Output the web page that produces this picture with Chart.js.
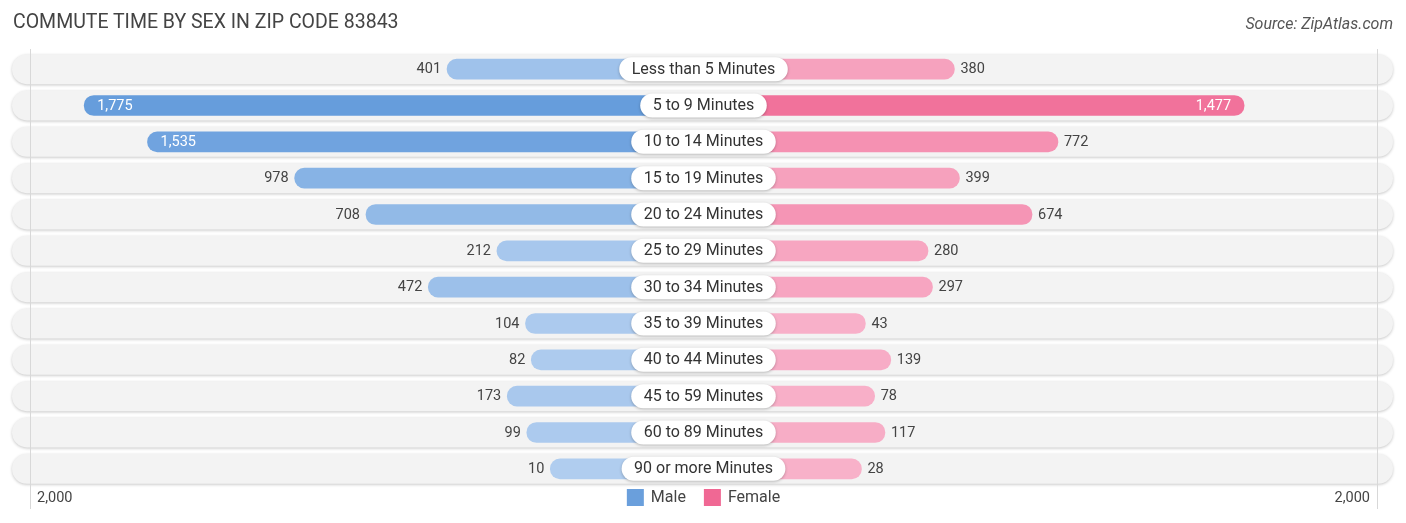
<!DOCTYPE html>
<html>
<head>
<meta charset="utf-8">
<script src="https://cdn.jsdelivr.net/npm/chart.js@4.4.0/dist/chart.umd.min.js"></script>
<style>
  body { margin: 0; background: #fff; font-family: Roboto, "Open Sans", sans-serif; }
  #wrap { position: relative; width: 1406px; height: 523px; }
  #title { position: absolute; left: 13px; top: 10px; font-size: 19.5px; color: #444; }
  #source { position: absolute; right: 13px; top: 14px; font-size: 16px; font-style: italic; color: #555; }
  canvas { position: absolute; left: 0; top: 0; }
</style>
</head>
<body>
<div id="wrap">
  <canvas id="chart" width="1406" height="523"></canvas>
  <div id="title">COMMUTE TIME BY SEX IN ZIP CODE 83843</div>
  <div id="source">Source: ZipAtlas.com</div>
</div>
<script>
// data
const categories = ['Less than 5 Minutes', '5 to 9 Minutes', '10 to 14 Minutes', '15 to 19 Minutes',
  '20 to 24 Minutes', '25 to 29 Minutes', '30 to 34 Minutes', '35 to 39 Minutes',
  '40 to 44 Minutes', '45 to 59 Minutes', '60 to 89 Minutes', '90 or more Minutes'];
const maleValues = [401, 1775, 1535, 978, 708, 212, 472, 104, 82, 173, 99, 10];
const femaleValues = [380, 1477, 772, 399, 674, 280, 297, 43, 139, 78, 117, 28];
const axisTickLabels = ['2,000', '2,000'];

// bars start behind the label pill, so every bar gets this much extra length
const GAP = 570;
const RANGE = 2550;

function mix(a, b, t) {
  const r = Math.round(a[0] + (b[0] - a[0]) * t);
  const g = Math.round(a[1] + (b[1] - a[1]) * t);
  const bl = Math.round(a[2] + (b[2] - a[2]) * t);
  return `rgb(${r},${g},${bl})`;
}
const maxAll = Math.max(...maleValues, ...femaleValues);
const maleColors = maleValues.map(v => mix([176, 205, 239], [102, 157, 220], v / maxAll));
const femaleColors = femaleValues.map(v => mix([248, 178, 202], [240, 101, 146], v / maxAll));

function fmt(v) { return v.toLocaleString('en-US'); }

// pill shape: rounded ends with radius h/2
function pill(ctx, x, y, w, h) {
  const r = h / 2;
  ctx.beginPath();
  ctx.moveTo(x + r, y);
  ctx.lineTo(x + w - r, y);
  ctx.arc(x + w - r, y + r, r, -Math.PI / 2, Math.PI / 2);
  ctx.lineTo(x + r, y + h);
  ctx.arc(x + r, y + r, r, Math.PI / 2, Math.PI * 1.5);
  ctx.closePath();
}

const backgroundPlugin = {
  id: 'rowBackgrounds',
  beforeDatasetsDraw(chart) {
    const ctx = chart.ctx;
    const y = chart.scales.y;
    const area = chart.chartArea;
    ctx.save();
    categories.forEach((c, i) => {
      const cy = y.getPixelForValue(i);
      ctx.shadowColor = 'rgba(0,0,0,0.22)';
      ctx.shadowBlur = 3;
      ctx.shadowOffsetY = 1;
      pill(ctx, 12, cy - 15, 1381, 30);
      ctx.fillStyle = '#f3f3f3';
      ctx.fill();
    });
    ctx.shadowColor = 'transparent';
    // gridlines at both ends of the axis
    ctx.strokeStyle = '#d8d8d8';
    ctx.lineWidth = 1;
    [area.left, area.right].forEach(x => {
      ctx.beginPath();
      ctx.moveTo(Math.round(x) + 0.5, area.top - 2);
      ctx.lineTo(Math.round(x) + 0.5, area.bottom + 22);
      ctx.stroke();
    });
    ctx.restore();
  }
};

const labelPlugin = {
  id: 'labels',
  afterDatasetsDraw(chart) {
    const ctx = chart.ctx;
    const xs = chart.scales.x;
    const ys = chart.scales.y;
    const area = chart.chartArea;
    const cx = xs.getPixelForValue(0);
    ctx.save();
    ctx.textBaseline = 'middle';
    ctx.font = '14.5px Roboto, sans-serif';
    categories.forEach((c, i) => {
      const cy = ys.getPixelForValue(i) + 0.5;
      const mx = xs.getPixelForValue(-(GAP + maleValues[i]));
      if (maleValues[i] > 1000) {
        ctx.fillStyle = '#fff';
        ctx.textAlign = 'left';
        ctx.fillText(fmt(maleValues[i]), mx + 13, cy);
      } else {
        ctx.fillStyle = '#444';
        ctx.textAlign = 'right';
        ctx.fillText(fmt(maleValues[i]), mx - 6, cy);
      }
      const fx = xs.getPixelForValue(GAP + femaleValues[i]);
      if (femaleValues[i] > 1000) {
        ctx.fillStyle = '#fff';
        ctx.textAlign = 'right';
        ctx.fillText(fmt(femaleValues[i]), fx - 13, cy);
      } else {
        ctx.fillStyle = '#444';
        ctx.textAlign = 'left';
        ctx.fillText(fmt(femaleValues[i]), fx + 6, cy);
      }
    });
    // category pills
    ctx.font = '16px Roboto, sans-serif';
    ctx.textAlign = 'center';
    categories.forEach((c, i) => {
      const cy = ys.getPixelForValue(i);
      const w = ctx.measureText(c).width + 25;
      ctx.shadowColor = 'rgba(0,0,0,0.25)';
      ctx.shadowBlur = 3;
      ctx.shadowOffsetY = 1;
      pill(ctx, cx - w / 2, cy - 12, w, 24);
      ctx.fillStyle = '#fff';
      ctx.fill();
      ctx.shadowColor = 'transparent';
      ctx.fillStyle = '#333';
      ctx.fillText(c, cx, cy + 0.5);
    });
    // axis end labels
    ctx.font = '14.5px Roboto, sans-serif';
    ctx.fillStyle = '#444';
    ctx.textAlign = 'left';
    ctx.fillText(axisTickLabels[0], area.left + 7, 498);
    ctx.textAlign = 'right';
    ctx.fillText(axisTickLabels[1], area.right - 7, 498);
    // legend
    const items = chart.data.datasets.map(d => ({ label: d.label, color: d.legendColor }));
    ctx.font = '16px Roboto, sans-serif';
    const widths = items.map(it => ctx.measureText(it.label).width);
    let total = 0;
    widths.forEach(w => { total += 17 + 7 + w; });
    total += 18 * (items.length - 1);
    let lx = cx - total / 2;
    items.forEach((it, k) => {
      ctx.fillStyle = it.color;
      ctx.fillRect(lx, 489, 17, 17);
      ctx.fillStyle = '#444';
      ctx.textAlign = 'left';
      ctx.fillText(it.label, lx + 24, 498);
      lx += 17 + 7 + widths[k] + 18;
    });
    ctx.restore();
  }
};

new Chart(document.getElementById('chart'), {
  type: 'bar',
  data: {
    labels: categories,
    datasets: [
      {
        label: 'Male',
        data: maleValues.map(v => [-(GAP + v), 0]),
        backgroundColor: maleColors,
        legendColor: '#6a9fdc',
        barThickness: 20,
        borderRadius: 10,
        borderSkipped: false
      },
      {
        label: 'Female',
        data: femaleValues.map(v => [0, GAP + v]),
        backgroundColor: femaleColors,
        legendColor: '#f06894',
        barThickness: 20,
        borderRadius: 10,
        borderSkipped: false
      }
    ]
  },
  options: {
    indexAxis: 'y',
    responsive: false,
    animation: false,
    layout: { padding: { left: 30, right: 29, top: 51, bottom: 36 } },
    datasets: { bar: { grouped: false } },
    scales: {
      x: { display: false, min: -RANGE, max: RANGE },
      y: { display: false, offset: true }
    },
    plugins: {
      legend: { display: false },
      tooltip: { enabled: false }
    }
  },
  plugins: [backgroundPlugin, labelPlugin]
});
</script>
</body>
</html>
